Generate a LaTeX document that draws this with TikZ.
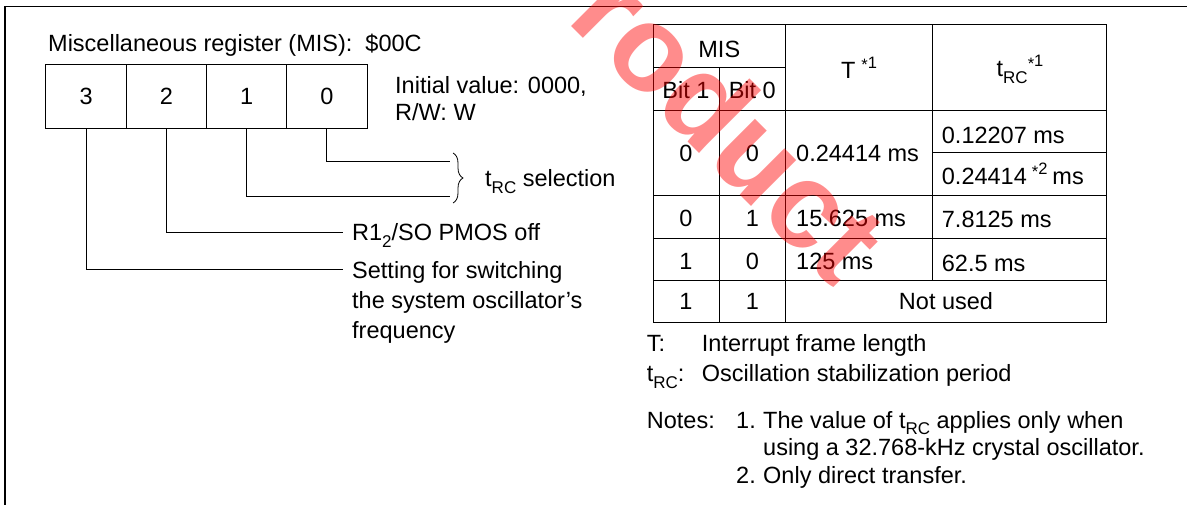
\documentclass[tikz,border=0pt]{standalone}
\usepackage{fontspec}
\setmainfont{Liberation Sans}
\usetikzlibrary{decorations.pathreplacing}
\newcommand\subs[1]{\raisebox{-6.5pt}{\fontsize{17}{17}\selectfont #1}}
\newcommand\sups[1]{\raisebox{10pt}{\fontsize{16.5}{16.5}\selectfont #1}}
\newcommand\starmark{\raisebox{-2.5pt}{*}}
\begin{document}
\begin{tikzpicture}[x=1pt,y=-1pt,
  every node/.style={font=\fontsize{23.5}{28}\selectfont, inner sep=0pt},
  txt/.style={anchor=base west},
  ctr/.style={anchor=base},
  cell/.style={draw, line width=1pt, minimum width=80.25pt, minimum height=64pt},
  wire/.style={line width=0.9pt},
  grid/.style={line width=1pt},
  frame/.style={line width=1.2pt},
  wmark/.style={rotate=-45, text=red, text opacity=0.45, font=\fontsize{122}{122}\selectfont\bfseries}]
\useasboundingbox (0,0) rectangle (1187,505);

% outer frame
\draw[frame] (5,505) -- (5,6.5) -- (1187,6.5);

% register
\node[txt] (title) at (48,52) {Miscellaneous register (MIS):\ \ \$00C};
\node[cell] (c3) at (86.1,96.3) {};
\node[cell] (c2) at (166.4,96.3) {};
\node[cell] (c1) at (246.6,96.3) {};
\node[cell] (c0) at (326.9,96.3) {};
\node[ctr] (d3) at (86.1,105) {3};
\node[ctr] (d2) at (166.4,105) {2};
\node[ctr] (d1) at (246.6,105) {1};
\node[ctr] (d0) at (326.9,105) {0};
\node[txt] (init) at (395,94) {Initial value: 0000,};
\node[txt] (rw) at (395,121) {R/W: W};

% connectors
\coordinate (e0) at (450,161);
\coordinate (e1) at (450,196);
\coordinate (e2) at (343,232);
\coordinate (e3) at (343,269.5);
\draw[wire] (c0.south) |- (e0);
\draw[wire] (c1.south) |- (e1);
\draw[wire] (c2.south) |- (e2);
\draw[wire] (c3.south) |- (e3);
\coordinate (bt) at (453,153);
\coordinate (bb) at (453,203);
\draw[line width=0.8pt, decorate, decoration={brace, amplitude=10pt}] (bt) -- (bb);
\node[txt] (trcsel) at (485,186.7) {t\subs{RC} selection};
\node[txt] (pmos) at (352,240.7) {R1\subs{2}/SO PMOS off};
\node[txt] (set1) at (352,279) {Setting for switching};
\node[txt] (set2) at (352,308.5) {the system oscillator’s};
\node[txt] (set3) at (352,338) {frequency};

% table grid
\draw[grid] (653,25) rectangle (1106,322.3);
\draw[grid] (719,67.7) -- (719,322.3);
\draw[grid] (785.7,25) -- (785.7,322.3);
\draw[grid] (932.3,25) -- (932.3,281);
\draw[grid] (653,67.7) -- (785.7,67.7);
\draw[grid] (653,110.3) -- (1106,110.3);
\draw[grid] (932.3,152.7) -- (1106,152.7);
\draw[grid] (653,195.7) -- (1106,195.7);
\draw[grid] (653,238.3) -- (1106,238.3);
\draw[grid] (653,281) -- (1106,281);

% table header
\node[ctr] (hmis) at (719.3,57.7) {MIS};
\node[ctr] (hb1) at (686,98.3) {Bit 1};
\node[ctr] (hb0) at (752.3,98.3) {Bit 0};
\node[ctr] (hT) at (859,78.3) {T\hspace{6pt}\sups{\starmark1}};
\node[ctr] (htrc) at (1020,76.7) {t\subs{RC}\sups{\starmark1}};

% table body
\node[ctr] (r1a) at (686,161.7) {0};
\node[ctr] (r1b) at (752.3,161.7) {0};
\node[txt] (r1T) at (796,161.7) {0.24414 ms};
\node[txt] (r1t1) at (941.7,143.3) {0.12207 ms};
\node[txt] (r1t2) at (941.7,185) {0.24414\hspace{5pt}\sups{\starmark2}\hspace{5pt}ms};

\node[ctr] (r2a) at (686,226.7) {0};
\node[ctr] (r2b) at (752.3,226.7) {1};
\node[txt] (r2T) at (796,226.7) {15.625 ms};
\node[txt] (r2t) at (941.7,228) {7.8125 ms};

\node[ctr] (r3a) at (686,270) {1};
\node[ctr] (r3b) at (752.3,270) {0};
\node[txt] (r3T) at (796,270) {125 ms};
\node[txt] (r3t) at (941.7,271.5) {62.5 ms};

\node[ctr] (r4a) at (686,310) {1};
\node[ctr] (r4b) at (752.3,310) {1};
\node[ctr] (r4c) at (946,310) {Not used};

% legend and notes
\node[txt] (lT) at (646.7,351.7) {T:};
\node[txt] (lTd) at (701.7,351.7) {Interrupt frame length};
\node[txt] (lt) at (646.7,381.7) {t\subs{RC}:};
\node[txt] (ltd) at (701.7,381.7) {Oscillation stabilization period};
\node[txt] (notes) at (646.7,428.3) {Notes:};
\node[txt] (n1) at (736,428.3) {1.};
\node[txt] (n1a) at (763,428.3) {The value of t\subs{RC} applies only when};
\node[txt] (n1b) at (763,455) {using a 32.768-kHz crystal oscillator.};
\node[txt] (n2) at (736,483) {2.};
\node[txt] (n2a) at (763,483) {Only direct transfer.};

% watermark
\begin{scope}
\clip (0,0) rectangle (1187,505);
\node[wmark] (wm) at (731,124) {roduct};
\end{scope}
\end{tikzpicture}
\end{document}
